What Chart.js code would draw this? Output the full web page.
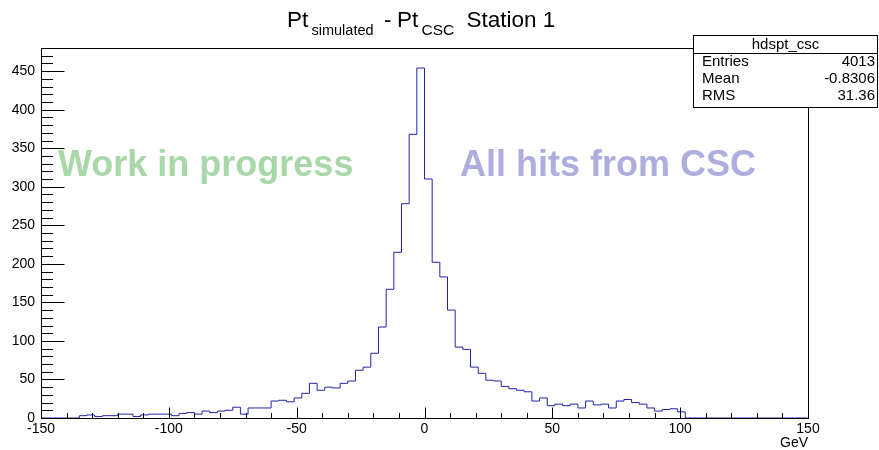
<!DOCTYPE html>
<html>
<head>
<meta charset="utf-8">
<script src="https://cdn.jsdelivr.net/npm/chart.js@4/dist/chart.umd.min.js"></script>
<style>
  html, body { margin: 0; padding: 0; background: #ffffff; }
  #wrap { width: 879px; height: 450px; }
</style>
</head>
<body>
<div id="wrap"><canvas id="c" width="879" height="450"></canvas></div>
<script>
// Histogram hdspt_csc: Pt(simulated) - Pt(CSC), station 1, 3 GeV bins
const firstBinLow = -135;
const binWidth = 3;
const counts = [
  3, 4, 2, 3, 3, 5, 5, 2, 4, 5,
  5, 5, 3, 6, 7, 5, 9, 7, 9, 10,
  14, 5, 13, 13, 13, 22, 23, 21, 26, 32,
  45, 36, 40, 39, 45, 48, 62, 66, 84, 118,
  167, 215, 278, 368, 454, 310, 202, 183, 140, 92,
  89, 66, 58, 49, 48, 41, 38, 36, 34, 22,
  26, 16, 18, 16, 18, 13, 22, 17, 18, 13,
  22, 24, 20, 18, 13, 9, 11, 12, 8
];
const xRange = [-150, 150];
const yRange = [0, 480];
const xTickLabels = [-150, -100, -50, 0, 50, 100, 150];
const yTickLabels = [0, 50, 100, 150, 200, 250, 300, 350, 400, 450];
const statsTitle = 'hdspt_csc';
const statsNames = ['Entries', 'Mean', 'RMS'];
const statsValues = ['4013', '-0.8306', '31.36'];
const xAxisTitle = 'GeV';

// Step outline: each point sits on a bin's low edge
const points = [{ x: xRange[0], y: 0 }];
counts.forEach((c, i) => points.push({ x: firstBinLow + i * binWidth, y: c }));
points.push({ x: firstBinLow + counts.length * binWidth, y: 0 });
points.push({ x: xRange[1], y: 0 });

const FONT = '"Liberation Sans", Arial, Helvetica, sans-serif';

const decorations = {
  id: 'rootFrame',
  beforeDatasetsDraw(chart) {
    const ctx = chart.ctx;
    ctx.save();
    ctx.font = 'bold 36px ' + FONT;
    ctx.textBaseline = 'alphabetic';
    ctx.textAlign = 'left';
    ctx.fillStyle = '#a8d7a8';
    ctx.fillText('Work in progress', 58, 176);
    ctx.fillStyle = '#adadde';
    ctx.fillText('All hits from CSC', 460, 176);
    ctx.restore();
  },
  afterDraw(chart) {
    const ctx = chart.ctx;
    const xs = chart.scales.x, ys = chart.scales.y;
    const a = chart.chartArea;
    const L = Math.round(a.left) + 0.5, R = Math.round(a.right) + 0.5;
    const T = Math.round(a.top) + 0.5, B = Math.round(a.bottom) + 0.5;
    ctx.save();
    ctx.strokeStyle = '#000';
    ctx.lineWidth = 1;
    ctx.strokeRect(L, T, R - L, B - T);

    // x ticks (pointing up into the frame)
    ctx.beginPath();
    for (let v = xRange[0]; v <= xRange[1]; v += 10) {
      const px = Math.round(xs.getPixelForValue(v)) + 0.5;
      const len = (v % 50 === 0) ? 11 : 5.5;
      ctx.moveTo(px, B);
      ctx.lineTo(px, B - len);
    }
    // y ticks (pointing right into the frame)
    for (let v = yRange[0]; v <= yRange[1]; v += 10) {
      const py = Math.round(ys.getPixelForValue(v)) + 0.5;
      const len = (v % 50 === 0) ? 23 : 11.5;
      ctx.moveTo(L, py);
      ctx.lineTo(L + len, py);
    }
    ctx.stroke();

    ctx.fillStyle = '#000';
    ctx.font = '14px ' + FONT;
    ctx.textAlign = 'center';
    ctx.textBaseline = 'top';
    xTickLabels.forEach(v => ctx.fillText(String(v), xs.getPixelForValue(v), 422));
    ctx.textAlign = 'right';
    ctx.textBaseline = 'middle';
    yTickLabels.forEach(v => ctx.fillText(String(v), 35, ys.getPixelForValue(v)));

    ctx.textAlign = 'right';
    ctx.textBaseline = 'alphabetic';
    ctx.fillText(xAxisTitle, a.right, 447);

    // title with subscripts: [text, font size, baseline shift, left x]
    const parts = [
      ['Pt', 22.5, 0, 287], ['simulated', 14.5, 8, 311.5], ['-', 22.5, 0, 384],
      ['Pt', 22.5, 0, 397], ['CSC', 15.5, 8, 421.5], ['Station 1', 22.5, 0, 466.5]
    ];
    ctx.textAlign = 'left';
    parts.forEach(p => {
      ctx.font = p[1] + 'px ' + FONT;
      ctx.fillText(p[0], p[3], 27 + p[2]);
    });

    // statistics box
    const bx = 693.5, by = 35.5, bw = 184, bh = 72;
    ctx.fillStyle = '#fff';
    ctx.fillRect(bx, by, bw, bh);
    ctx.strokeStyle = '#000';
    ctx.strokeRect(bx, by, bw, bh);
    ctx.beginPath();
    ctx.moveTo(bx, 53.5);
    ctx.lineTo(bx + bw, 53.5);
    ctx.stroke();
    ctx.fillStyle = '#000';
    ctx.font = '15px ' + FONT;
    ctx.textBaseline = 'middle';
    ctx.textAlign = 'center';
    ctx.fillText(statsTitle, bx + bw / 2, 44.5);
    const rowsY = [62, 79, 96];
    statsNames.forEach((n, i) => {
      ctx.textAlign = 'left';
      ctx.fillText(n, 702, rowsY[i]);
      ctx.textAlign = 'right';
      ctx.fillText(statsValues[i], 875, rowsY[i]);
    });
    ctx.restore();
  }
};

new Chart(document.getElementById('c'), {
  type: 'line',
  data: {
    datasets: [{
      data: points,
      stepped: 'before',
      borderColor: '#2222aa',
      borderWidth: 1,
      pointRadius: 0,
      fill: false,
      tension: 0
    }]
  },
  options: {
    responsive: false,
    animation: false,
    events: [],
    layout: { padding: { left: 41, right: 71, top: 48, bottom: 32 } },
    plugins: { legend: { display: false }, tooltip: { enabled: false }, title: { display: false } },
    scales: {
      x: { type: 'linear', min: xRange[0], max: xRange[1], display: false },
      y: { type: 'linear', min: yRange[0], max: yRange[1], display: false }
    }
  },
  plugins: [decorations]
});
</script>
</body>
</html>
